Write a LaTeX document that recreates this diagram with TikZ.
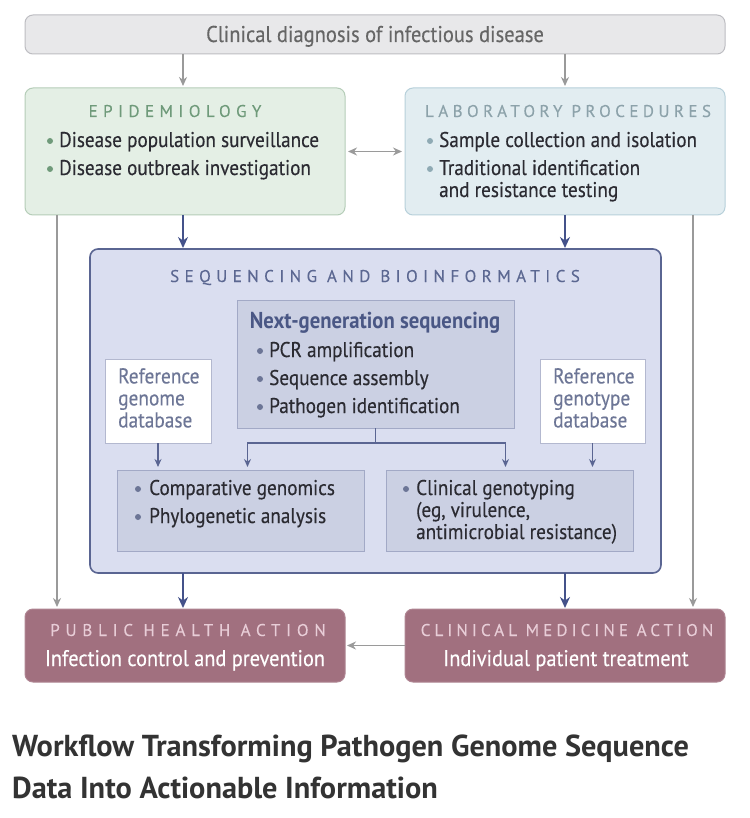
\documentclass[tikz,border=0pt]{standalone}
\usepackage{fontspec}
\setmainfont{PT Sans}[FakeStretch=0.9, FakeBold=0.3, BoldFeatures={FakeBold=0}]
\newfontfamily\capfont{PT Sans}
\newfontfamily\spA{PT Sans}[LetterSpace=32, FakeBold=0.2]
\newfontfamily\spP{PT Sans}[LetterSpace=34, FakeBold=0.2]
\newfontfamily\spB{PT Sans}[LetterSpace=26, FakeBold=0.2]
\newfontfamily\spC{PT Sans}[LetterSpace=24, FakeBold=0.2]
\usetikzlibrary{arrows.meta,calc}
\definecolor{topfill}{HTML}{E8E8EA}
\definecolor{topdraw}{HTML}{BDBDC2}
\definecolor{toptext}{HTML}{666666}
\definecolor{epifill}{HTML}{E4EFE5}
\definecolor{epidraw}{HTML}{B5CDB8}
\definecolor{epititle}{HTML}{6F9A7A}
\definecolor{labfill}{HTML}{E2EDF1}
\definecolor{labdraw}{HTML}{B7D0DA}
\definecolor{labtitle}{HTML}{8CA2AA}
\definecolor{labdot}{HTML}{8FAAB4}
\definecolor{grayarr}{HTML}{9A9A9A}
\definecolor{navy}{HTML}{44528A}
\definecolor{seqfill}{HTML}{DADEF0}
\definecolor{seqdraw}{HTML}{5A6592}
\definecolor{seqtitle}{HTML}{5B6791}
\definecolor{seqdot}{HTML}{6C7596}
\definecolor{infill}{HTML}{CBD0E3}
\definecolor{indraw}{HTML}{A2A9C6}
\definecolor{ngstitle}{HTML}{4A5785}
\definecolor{reftext}{HTML}{6D7696}
\definecolor{refdraw}{HTML}{B3B8CF}
\definecolor{actfill}{HTML}{A1707F}
\definecolor{acttitle}{HTML}{E8CDD7}
\definecolor{darktext}{HTML}{2B2B32}
\definecolor{captext}{HTML}{333333}
\begin{document}
\begin{tikzpicture}[x=1pt,y=-1pt,
  box/.style={anchor=north west, inner sep=0pt, outer sep=0pt, line width=1pt},
  rbox/.style={box, rounded corners=8pt},
  txt/.style={anchor=base west, inner sep=0pt, font=\fontsize{21.3}{25}\selectfont, text=darktext},
  ctxt/.style={anchor=base, inner sep=0pt},
  reftxt/.style={anchor=north west, inner sep=0pt, align=left, font=\fontsize{21.5}{22}\selectfont, text=reftext},
  garr/.style={draw=grayarr, line width=1.4pt, -{Stealth[length=9pt,width=8pt]}, shorten >=2pt},
  narr/.style={draw=navy, line width=2.6pt, -{Stealth[length=11pt,width=10pt]}, shorten >=1pt},
  iarr/.style={draw=seqdraw, line width=1.2pt, -{Stealth[length=8pt,width=7pt]}, shorten >=3pt},
  dot/.style={circle, inner sep=0pt, minimum size=6pt}
]
\useasboundingbox (0,0) rectangle (749,818);
\fill[white] (0,0) rectangle (749,818);

% ---------- boxes ----------
\node[rbox, fill=topfill, draw=topdraw, minimum width=700pt, minimum height=39pt] (top) at (25,15) {};
\node[rbox, fill=epifill, draw=epidraw, minimum width=320pt, minimum height=127pt] (epi) at (25,88) {};
\node[rbox, fill=labfill, draw=labdraw, minimum width=320pt, minimum height=127pt] (lab) at (405,88) {};
\node[rbox, fill=seqfill, draw=seqdraw, line width=1.6pt, minimum width=571pt, minimum height=324pt] (seq) at (90,249) {};
\node[box, fill=infill, draw=indraw, minimum width=277pt, minimum height=128pt] (ngs) at (237,300) {};
\node[box, fill=white, draw=refdraw, minimum width=106pt, minimum height=84pt] (refg) at (105,359) {};
\node[box, fill=white, draw=refdraw, minimum width=105pt, minimum height=84pt] (reft) at (540,359) {};
\node[box, fill=infill, draw=indraw, minimum width=247pt, minimum height=81pt] (comp) at (117,470) {};
\node[box, fill=infill, draw=indraw, minimum width=247pt, minimum height=81pt] (geno) at (386,470) {};
\node[rbox, fill=actfill, draw=actfill!85!white, minimum width=320pt, minimum height=73pt] (pub) at (25,609) {};
\node[rbox, fill=actfill, draw=actfill!85!white, minimum width=320pt, minimum height=73pt] (clin) at (405,609) {};

% ---------- texts ----------
\node[ctxt, font=\fontsize{22.8}{26}\selectfont, text=toptext] (toptitle) at (375,42) {Clinical diagnosis of infectious disease};

\node[ctxt, font=\spA\fontsize{17}{20}\selectfont, text=epititle] (epititle) at (175,117) {EPIDEMIOLOGY};
\node[txt] (e1) at (59,147) {Disease population surveillance};
\node[txt] (e2) at (59,175) {Disease outbreak investigation};
\node[dot, fill=epititle] (e1d) at (50,141) {};
\node[dot, fill=epititle] (e2d) at (50,169) {};

\node[ctxt, font=\spB\fontsize{17}{20}\selectfont, text=labtitle] (labtitle) at (568,117) {LABORATORY PROCEDURES};
\node[txt] (l1) at (439,147) {Sample collection and isolation};
\node[txt] (l2) at (439,175) {Traditional identification};
\node[txt] (l3) at (439,197) {and resistance testing};
\node[dot, fill=labdot] (l1d) at (430,141) {};
\node[dot, fill=labdot] (l2d) at (430,169) {};

\node[ctxt, font=\spA\fontsize{17}{20}\selectfont, text=seqtitle] (seqtitle) at (375,282) {SEQUENCING AND BIOINFORMATICS};

\node[ctxt, font=\bfseries\fontsize{23}{26}\selectfont, text=ngstitle] (ngstitle) at (375,328) {Next-generation sequencing};
\node[txt] (n1) at (269,357) {PCR amplification};
\node[txt] (n2) at (269,385) {Sequence assembly};
\node[txt] (n3) at (269,413) {Pathogen identification};
\node[dot, fill=seqdot] (n1d) at (260,351) {};
\node[dot, fill=seqdot] (n2d) at (260,379) {};
\node[dot, fill=seqdot] (n3d) at (260,407) {};

\node[reftxt] (refgt) at (118,368) {Reference\\genome\\database};
\node[reftxt] (reftt) at (553,368) {Reference\\genotype\\database};

\node[txt] (c1) at (149,495) {Comparative genomics};
\node[txt] (c2) at (149,523) {Phylogenetic analysis};
\node[dot, fill=seqdot] (c1d) at (138,489) {};
\node[dot, fill=seqdot] (c2d) at (138,517) {};

\node[txt] (g1) at (416,495) {Clinical genotyping};
\node[txt] (g2) at (416,517) {(eg, virulence,};
\node[txt] (g3) at (416,539) {antimicrobial resistance)};
\node[dot, fill=seqdot] (g1d) at (406,489) {};

\node[ctxt, font=\spP\fontsize{17}{20}\selectfont, text=acttitle] (pubtitle) at (188,636) {PUBLIC HEALTH ACTION};
\node[ctxt, font=\fontsize{22.6}{26}\selectfont, text=white] (pubtext) at (185,666) {Infection control and prevention};
\node[ctxt, font=\spC\fontsize{17}{20}\selectfont, text=acttitle] (clintitle) at (567,636) {CLINICAL MEDICINE ACTION};
\node[ctxt, font=\fontsize{22.6}{26}\selectfont, text=white] (clintext) at (566,666) {Individual patient treatment};

\node[anchor=base west, inner sep=0pt, font=\capfont\bfseries\fontsize{30.3}{42}\selectfont, text=captext] (cap1) at (12,756) {Workflow Transforming Pathogen Genome Sequence};
\node[anchor=base west, inner sep=0pt, font=\capfont\bfseries\fontsize{30.3}{42}\selectfont, text=captext] (cap2) at (12,798) {Data Into Actionable Information};

% ---------- connectors ----------
\draw[garr] (top.south -| 183,0) -- (183,88);
\draw[garr] (top.south -| lab.north) -- (lab.north);
\draw[draw=grayarr, line width=1.4pt, {Stealth[length=9pt,width=8pt]}-{Stealth[length=9pt,width=8pt]}, shorten >=3pt, shorten <=3pt] (epi.east) -- (lab.west);
\draw[garr] ([xshift=32pt]epi.south west) -- ([xshift=32pt]pub.north west);
\draw[garr] ([xshift=-32pt]lab.south east) -- ([xshift=-32pt]clin.north east);
\draw[narr] (epi.south -| 183,0) -- (seq.north -| 183,0);
\draw[narr] (lab.south) -- (seq.north -| lab.south);
\draw[narr] (seq.south -| 183,0) -- (pub.north -| 183,0);
\draw[narr] (seq.south -| clin.north) -- (clin.north);
\draw[garr] (clin.west) -- (pub.east);

\coordinate (junc) at ($(ngs.south)+(0,15)$);
\draw[draw=seqdraw, line width=1.2pt] (ngs.south) -- (junc);
\draw[iarr] (junc) -| ([xshift=7pt]comp.north);
\draw[iarr] (junc) -| ([xshift=-4pt]geno.north);
\draw[iarr] (refg.south) -- (refg.south |- comp.north);
\draw[iarr] (reft.south) -- (reft.south |- geno.north);
\end{tikzpicture}
\end{document}
